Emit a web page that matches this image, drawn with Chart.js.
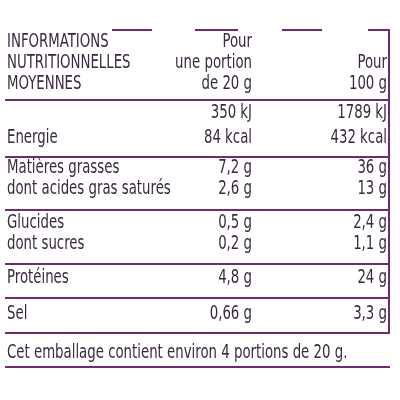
<!DOCTYPE html>
<html>
<head>
<meta charset="utf-8">
<script src="https://cdn.jsdelivr.net/npm/chart.js@4"></script>
<style>
  html, body { margin: 0; padding: 0; background: #fff; }
  #wrap { width: 400px; height: 400px; }
</style>
</head>
<body>
<div id="wrap"><canvas id="tbl"></canvas></div>
<script>
const headerLines = ['INFORMATIONS', 'NUTRITIONNELLES', 'MOYENNES'];
const portionHeader = ['Pour', 'une portion', 'de 20 g'];
const per100Header = ['Pour', '100 g'];
const nutrients = ['', 'Energie', 'Matières grasses', 'dont acides gras saturés', 'Glucides', 'dont sucres', 'Protéines', 'Sel'];
const perPortion = ['350 kJ', '84 kcal', '7,2 g', '2,6 g', '0,5 g', '0,2 g', '4,8 g', '0,66 g'];
const per100g = ['1789 kJ', '432 kcal', '36 g', '13 g', '2,4 g', '1,1 g', '24 g', '3,3 g'];
const footer = 'Cet emballage contient environ 4 portions de 20 g.';

// layout (row baselines, rules), in a 0..400 value space
const rowY = [118, 143, 173, 194, 228, 249, 283, 319];
const ruleY = [100, 157, 210, 264, 298, 333, 367];
const TEXT = '#3b2840', LINE = '#6e2c6e';
const FONT = '20px "DejaVu Sans Condensed", "Liberation Sans", sans-serif';
const SQUEEZE = 0.74;

const tablePlugin = {
  id: 'tablePlugin',
  afterDraw(chart) {
    const c = chart.ctx, x = chart.scales.x, y = chart.scales.y;
    const X = v => x.getPixelForValue(v), Y = v => y.getPixelForValue(v);
    const txt = (t, px, py, align) => {
      c.save();
      c.translate(X(px), Y(py));
      c.scale(SQUEEZE, 1);
      c.textAlign = align;
      c.fillText(t, 0, 0);
      c.restore();
    };
    c.save();
    c.fillStyle = TEXT;
    c.font = FONT;
    c.textBaseline = 'alphabetic';
    headerLines.forEach((t, i) => txt(t, 7, 47 + i * 21, 'left'));
    portionHeader.forEach((t, i) => txt(t, 252, 47 + i * 21, 'right'));
    per100Header.forEach((t, i) => txt(t, 387, 68 + i * 21, 'right'));
    nutrients.forEach((t, i) => {
      txt(t, 7, rowY[i], 'left');
      txt(perPortion[i], 252, rowY[i], 'right');
      txt(per100g[i], 387, rowY[i], 'right');
    });
    txt(footer, 7, 358, 'left');
    c.strokeStyle = LINE;
    c.lineWidth = 2;
    c.beginPath();
    ruleY.forEach(v => { c.moveTo(X(5), Y(v)); c.lineTo(X(390), Y(v)); });
    [[112, 152], [195, 238], [282, 322], [368, 390]].forEach(([a, b]) => {
      c.moveTo(X(a), Y(30)); c.lineTo(X(b), Y(30));
    });
    c.moveTo(X(389), Y(30)); c.lineTo(X(389), Y(333));
    c.stroke();
    c.restore();
  }
};

new Chart(document.getElementById('tbl'), {
  type: 'scatter',
  data: { datasets: [{ data: [], pointRadius: 0 }] },
  options: {
    responsive: true,
    maintainAspectRatio: false,
    animation: false,
    layout: { padding: 0 },
    plugins: { legend: { display: false }, tooltip: { enabled: false } },
    scales: {
      x: { type: 'linear', min: 0, max: 400, display: false },
      y: { type: 'linear', min: 0, max: 400, reverse: true, display: false }
    }
  },
  plugins: [tablePlugin]
});
</script>
</body>
</html>
